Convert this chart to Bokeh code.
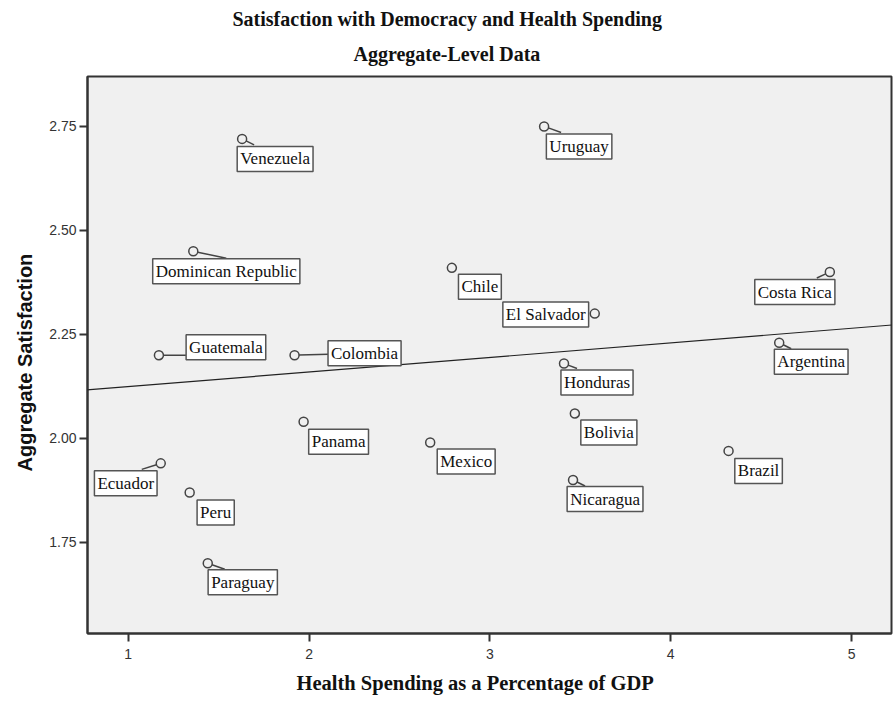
import numpy as np
from bokeh.plotting import figure
from bokeh.models import Label, FixedTicker, NumeralTickFormatter, Range1d, Slope, Title
from bokeh.embed import file_html
from bokeh.resources import INLINE

# --- data -------------------------------------------------------------
countries = [
    "Venezuela", "Uruguay", "Dominican Republic", "Chile", "Costa Rica",
    "El Salvador", "Guatemala", "Colombia", "Argentina", "Honduras",
    "Bolivia", "Panama", "Mexico", "Brazil", "Ecuador", "Nicaragua",
    "Peru", "Paraguay",
]
health_spending = [1.63, 3.30, 1.36, 2.79, 4.88, 3.58, 1.17, 1.92, 4.60,
                   3.41, 3.47, 1.97, 2.67, 4.32, 1.18, 3.46, 1.34, 1.44]
satisfaction = [2.72, 2.75, 2.45, 2.41, 2.40, 2.30, 2.20, 2.20, 2.23,
                2.18, 2.06, 2.04, 1.99, 1.97, 1.94, 1.90, 1.87, 1.70]
x_ticks = [1, 2, 3, 4, 5]
y_ticks = [1.75, 2.00, 2.25, 2.50, 2.75]

# --- label layout: box centre offset from its point, in pixels (y down)
label_offset = {
    "Venezuela": (33, 20), "Uruguay": (35, 20), "Dominican Republic": (33, 20),
    "Chile": (28, 19), "Costa Rica": (-35, 20), "El Salvador": (-49, 1),
    "Guatemala": (67, -8), "Colombia": (70, -2), "Argentina": (32, 19),
    "Honduras": (33, 19), "Bolivia": (34, 19), "Panama": (35, 20),
    "Mexico": (36, 19), "Brazil": (30, 20), "Ecuador": (-35, 20),
    "Nicaragua": (32, 19), "Peru": (26, 20), "Paraguay": (35, 19),
}
# leader line end points, pixels from the point (y down)
leader_end = {
    "Venezuela": (12, 6), "Uruguay": (17, 6), "Dominican Republic": (33, 7),
    "Costa Rica": (-13, 6), "Guatemala": (27, 0), "Colombia": (34, -1),
    "Argentina": (12, 6), "Honduras": (13, 5), "Ecuador": (-19, 6),
    "Nicaragua": (12, 6), "Paraguay": (17, 6),
}

# --- geometry ---------------------------------------------------------
FRAME_L, FRAME_T = 87, 76
FRAME_W, FRAME_H = 804, 557
X0, X1 = 0.775, 5.221
Y0, Y1 = 1.531, 2.870
sx = FRAME_W / (X1 - X0)
sy = FRAME_H / (Y1 - Y0)

p = figure(
    width=893, height=702,
    frame_width=FRAME_W, frame_height=FRAME_H,
    min_border_left=FRAME_L, min_border_right=893 - FRAME_L - FRAME_W,
    min_border_top=FRAME_T, min_border_bottom=702 - FRAME_T - FRAME_H,
    x_range=Range1d(X0, X1), y_range=Range1d(Y0, Y1),
    title_location=None,
    output_backend="svg", toolbar_location=None,
)
p.background_fill_color = "#f0f0f0"
p.border_fill_color = "white"
p.outline_line_color = "#333333"
p.outline_line_width = 2
p.grid.visible = False

for ax in (p.xaxis[0], p.yaxis[0]):
    ax.major_label_text_font = "Liberation Sans"
    ax.major_label_text_font_size = "14px"
    ax.major_label_text_color = "#333333"
    ax.major_tick_out = 8
    ax.major_tick_in = 0
    ax.minor_tick_out = 0
    ax.minor_tick_in = 0
    ax.major_tick_line_color = "#333333"
    ax.major_tick_line_width = 2
    ax.axis_line_color = "#333333"
    ax.axis_line_width = 2
p.xaxis[0].ticker = FixedTicker(ticks=x_ticks)
p.yaxis[0].ticker = FixedTicker(ticks=y_ticks)
p.xaxis[0].formatter = NumeralTickFormatter(format="0")
p.yaxis[0].formatter = NumeralTickFormatter(format="0.00")
p.xaxis[0].major_label_standoff = 7
p.yaxis[0].major_label_standoff = 3

# fit line (least squares)
slope, intercept = np.polyfit(health_spending, satisfaction, 1)
p.add_layout(Slope(gradient=slope, y_intercept=intercept,
                   line_color="#222222", line_width=1.2))

# leader lines from point circle edge to label box
R = 4.5
x0s, y0s, x1s, y1s = [], [], [], []
for name, hx, sv in zip(countries, health_spending, satisfaction):
    if name not in leader_end:
        continue
    ex, ey = leader_end[name]
    d = np.hypot(ex, ey)
    x0s.append(hx + ex / d * R / sx)
    y0s.append(sv - ey / d * R / sy)
    x1s.append(hx + ex / sx)
    y1s.append(sv - ey / sy)
p.segment(x0s, y0s, x1s, y1s, line_color="#444444", line_width=1.5)

p.scatter(health_spending, satisfaction, marker="circle", size=9,
          fill_color=None, line_color="#444444", line_width=1.5)

for name, hx, sv in zip(countries, health_spending, satisfaction):
    dx, dy = label_offset[name]
    p.add_layout(Label(
        x=hx + dx / sx, y=sv - dy / sy, text=name,
        text_align="center", text_baseline="middle",
        text_font="Liberation Serif", text_font_size="17px",
        text_color="#111111",
        background_fill_color="white",
        border_line_color="#555555", border_line_width=1.5,
        padding=(3, 3),
    ))

# chart titles and axis titles
serif_bold = dict(text_font="Liberation Serif", text_font_style="bold",
                  text_color="#111111")
p.add_layout(Title(text="Aggregate-Level Data", align="left", offset=266,
                   standoff=23, text_font_size="20px", **serif_bold), "above")
p.add_layout(Title(text="Satisfaction with Democracy and Health Spending",
                   align="left", offset=145, standoff=0,
                   text_font_size="20px", **serif_bold), "above")
p.add_layout(Title(text="Health Spending as a Percentage of GDP", align="left",
                   offset=209, standoff=17, text_font_size="20.5px",
                   **serif_bold), "below")
p.add_layout(Title(text="Aggregate Satisfaction", align="left", offset=162,
                   standoff=22, text_font="Liberation Sans",
                   text_font_style="bold", text_font_size="20px",
                   text_color="#111111"), "left")

open("out.html", "w").write(file_html(p, INLINE))
